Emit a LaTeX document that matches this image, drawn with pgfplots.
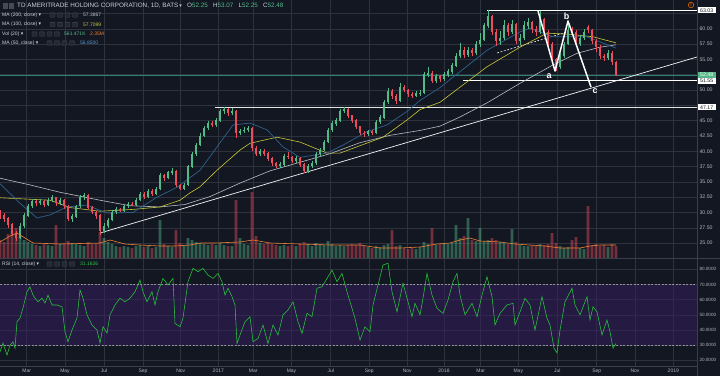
\documentclass[border=0pt]{standalone}
\usepackage{fontspec}
\setmainfont{Liberation Sans}
\newfontfamily\sym{DejaVu Sans}
\usepackage{pgfplots}
\pgfplotsset{compat=1.18}
\usepackage{pgfplotstable}

\definecolor{bgc}{RGB}{19,23,34}
\definecolor{gridc}{RGB}{46,50,61}
\definecolor{upc}{RGB}{83,185,135}
\definecolor{dnc}{RGB}{235,77,92}
\definecolor{labc}{RGB}{178,181,190}
\definecolor{txtc}{RGB}{205,208,216}
\definecolor{ma200c}{RGB}{185,188,195}
\definecolor{ma100c}{RGB}{200,200,55}
\definecolor{ma50c}{RGB}{45,98,142}
\definecolor{ma50t}{RGB}{90,150,210}
\definecolor{volmac}{RGB}{236,128,50}
\definecolor{rsic}{RGB}{40,200,60}
\definecolor{purp}{RGB}{55,29,98}
\definecolor{pricec}{RGB}{45,130,115}
\definecolor{icof}{RGB}{36,40,51}
\definecolor{icoc}{RGB}{70,74,85}
\definecolor{sepc}{RGB}{60,63,74}

% weekly candles: x = session position, o h l c, v = volume (scaled)
\pgfplotstableread{
x o h l c v
20 25.8 28.2 25.6 27.8 22
24 27.8 29.9 27.5 29.5 18
28 29.5 31.4 29.3 31.0 16
32 31.0 32.2 30.7 31.8 14
40 31.5 32.2 31.2 31.8 12
48 31.3 32.4 31.0 32.0 13
52 32.0 32.8 31.7 32.4 12
60 31.5 32.4 31.2 32.0 14
72 29.0 29.8 28.5 29.3 15
76 29.3 31.3 29.1 31.0 14
80 31.0 32.9 30.8 32.5 13
84 32.5 33.2 32.1 32.8 12
104 27.0 28.2 26.6 27.8 20
108 27.8 29.1 27.5 28.8 16
112 28.8 30.4 28.6 30.0 14
116 30.0 30.9 29.7 30.5 12
124 30.3 31.3 30.1 31.0 12
128 31.0 31.7 30.8 31.4 11
136 31.3 32.4 31.1 32.0 12
140 32.0 33.4 31.8 33.0 13
148 32.5 33.9 32.3 33.5 12
156 33.0 34.1 32.8 33.8 11
160 33.8 36.4 33.6 36.0 38
168 35.6 36.8 35.4 36.5 12
172 36.5 37.3 36.2 36.8 11
184 33.9 34.8 33.7 34.5 13
188 34.5 37.8 34.3 37.5 20
192 37.5 39.9 37.3 39.5 18
196 39.5 41.4 39.3 41.0 16
200 41.0 42.9 40.8 42.5 15
204 42.5 44.2 42.3 43.8 14
208 43.8 44.9 43.5 44.5 13
216 44.3 45.4 44.0 45.0 13
220 45.0 46.9 44.8 46.5 15
224 46.5 47.2 46.1 46.8 13
232 46.2 47.0 45.9 46.6 12
240 43.0 43.7 42.6 43.3 20
244 43.3 43.9 43.0 43.5 14
248 43.5 44.1 43.2 43.8 13
260 39.5 40.4 39.3 40.0 15
280 37.6 38.2 37.3 37.8 12
284 37.8 39.6 37.6 39.2 13
296 38.4 39.2 38.1 38.8 12
308 36.8 37.9 36.5 37.6 14
312 37.6 38.4 37.3 38.0 12
316 38.0 39.8 37.8 39.5 15
320 39.5 40.6 39.2 40.2 14
324 40.2 41.9 40.0 41.5 13
328 41.5 43.8 41.3 43.5 17
332 43.5 44.9 43.2 44.5 14
336 44.5 45.4 44.2 45.0 12
340 45.0 46.9 44.8 46.5 13
344 46.5 47.2 46.2 46.8 12
368 42.8 43.5 42.5 43.2 11
376 43.0 45.1 42.8 44.8 12
380 44.8 45.9 44.5 45.5 11
384 45.5 48.4 45.3 48.0 13
388 48.0 50.3 47.8 49.8 14
400 48.2 51.2 48.0 50.5 13
416 49.0 49.8 48.8 49.4 9
420 49.4 50.0 49.0 49.5 11
424 49.5 53.0 49.3 52.5 16
428 52.5 53.8 52.2 52.8 14
436 51.5 52.6 51.2 52.2 13
444 51.8 52.9 51.5 52.5 15
448 52.5 53.5 52.2 53.0 14
452 53.0 54.4 52.7 54.0 15
456 54.0 56.0 53.8 55.5 33
460 55.5 57.7 55.2 56.5 20
468 55.8 57.0 55.4 56.5 40
476 56.0 58.0 55.8 57.5 17
480 57.5 59.3 57.0 58.2 30
484 58.2 61.0 58.0 60.5 17
488 60.5 63.03 60.2 62.0 18
500 58.0 59.6 57.4 58.5 16
504 58.5 61.4 58.2 60.5 15
512 59.5 61.4 59.1 60.8 29
520 58.0 59.2 57.4 58.5 13
524 58.5 61.2 58.2 60.5 12
528 60.5 61.8 60.0 61.0 12
540 59.5 62.9 59.2 61.5 14
560 53.8 56.0 53.5 55.5 12
564 55.5 57.9 55.2 57.5 10
568 57.5 60.8 57.3 59.8 11
580 57.5 59.0 57.2 58.5 10
584 58.5 60.0 58.2 59.5 9
608 55.2 56.6 54.9 56.0 11
}\up

\pgfplotstableread{
x o h l c v
0 30.0 30.4 29.0 29.5 18
4 29.5 29.9 28.5 29.0 16
8 29.0 29.3 27.5 28.0 24
12 28.0 28.3 26.1 26.5 27
16 26.5 27.0 25.4 25.8 30
36 31.8 32.1 31.1 31.5 13
44 31.8 32.0 30.9 31.3 14
56 32.4 32.6 31.1 31.5 33
64 32.0 32.2 30.6 31.0 15
68 31.0 31.2 28.6 29.0 17
88 32.8 33.0 30.5 30.8 16
92 30.8 31.1 29.7 30.0 14
96 30.0 30.3 29.0 29.5 15
100 29.5 29.7 26.3 27.0 26
120 30.5 30.8 30.0 30.3 11
132 31.4 31.7 31.0 31.3 10
144 33.0 33.3 32.2 32.5 11
152 33.5 33.8 32.7 33.0 10
164 36.0 36.3 35.2 35.6 14
176 36.8 37.0 34.2 34.5 28
180 34.5 34.7 33.6 33.9 15
212 44.5 44.9 43.9 44.3 14
228 46.8 47.1 45.8 46.2 12
236 46.6 46.8 42.2 43.0 58
252 43.8 44.0 40.1 40.5 66
256 40.5 40.8 39.2 39.5 22
264 40.0 40.3 39.3 39.6 14
268 39.6 39.9 38.4 38.8 15
272 38.8 39.1 37.6 38.0 14
276 38.0 38.3 37.2 37.6 13
288 39.2 39.8 38.7 39.0 12
292 39.0 39.3 38.1 38.4 13
300 38.8 39.0 37.4 37.8 14
304 37.8 38.0 36.4 36.8 16
348 46.8 47.0 45.4 45.8 13
352 45.8 46.0 44.6 45.0 14
356 45.0 45.3 43.7 44.0 13
360 44.0 44.2 42.6 43.0 15
364 43.0 43.3 42.4 42.8 12
372 43.2 43.5 42.6 43.0 10
392 49.8 50.1 48.6 49.0 28
396 49.0 49.3 47.8 48.2 12
404 50.5 50.9 49.6 50.0 10
408 50.0 50.2 48.9 49.3 9
412 49.3 49.6 48.7 49.0 10
432 52.8 53.1 51.1 51.5 30
440 52.2 52.5 51.3 51.8 14
464 56.5 57.0 55.2 55.8 22
472 56.5 56.9 55.5 56.0 18
492 62.0 62.3 59.0 59.5 20
496 59.5 59.9 57.2 58.0 18
508 60.5 61.0 58.9 59.5 14
516 60.8 61.0 57.5 58.0 16
532 61.0 61.3 59.4 60.0 13
536 60.0 60.4 58.8 59.5 12
544 61.5 61.8 59.0 59.5 13
548 59.5 59.8 57.0 57.5 14
552 57.5 57.8 54.6 55.0 25
556 55.0 55.3 53.1 53.8 15
572 59.8 60.3 59.0 59.5 18
576 59.5 59.8 57.1 57.5 21
588 60.3 60.6 59.4 59.8 52
592 59.8 60.0 57.6 58.0 13
596 58.0 58.4 56.2 57.0 14
600 57.0 57.3 55.0 55.5 12
604 55.5 55.9 54.7 55.2 13
612 56.0 56.3 54.1 54.5 14
616 54.5 54.7 52.25 52.48 12
}\dn

\newcommand\icons[2]{\foreach \k in {0,1,2,3}{\draw[icoc, fill=icof, line width=0.4pt, rounded corners=0.6pt] ({#1+\k*7.5},{#2-2.2}) rectangle ++(5,4.4);}}

\pgfplotsset{
  wick/.style={draw=none, mark=none, forget plot, error bars/.cd, y dir=plus, y explicit, error mark=none,
    error bar style={draw=#1, line width=0.6pt, solid}},
  body/.style={draw=none, mark=none, forget plot, error bars/.cd, y dir=plus, y explicit, error mark=none,
    error bar style={draw=#1, line width=2.3pt, solid}},
}

\begin{document}
\begin{tikzpicture}[x=1pt,y=1pt]
\fill[bgc] (0,0) rectangle (720,376);

% ---------------- main price panel
\begin{axis}[
  name=main,
  at={(0pt,118pt)}, anchor=south west, scale only axis,
  width=697pt, height=258pt,
  xmin=0, xmax=697, ymin=22.56, ymax=64.71,
  xtick={26.7,65,104,143,180.7,218.3,253.3,291.5,330.7,369.3,407.3,444,480.7,518.3,557.3,596.7,635,673.3},
  xticklabels={},
  ytick={25,27.5,30,32.5,35,37.5,40,42.5,45,50,55,57.5,60},
  extra y ticks={47.5,52.5,62.5}, extra y tick labels={},
  yticklabel pos=right,
  yticklabel style={font=\fontsize{5.2}{6}\selectfont, text=labc, anchor=west, xshift=-1pt},
  grid=major, major grid style={draw=gridc, line width=0.5pt},
  extra tick style={grid=major, major grid style={draw=gridc, line width=0.5pt}},
  axis line style={draw=none}, major tick length=0pt,
  clip mode=individual,
  /pgf/number format/.cd, fixed, fixed zerofill, precision=2, assume math mode=true,
]
% last price line
\addplot[pricec, line width=0.45pt] coordinates {(0,52.48)(697,52.48)};
% horizontal levels
\addplot[white!80!gray, line width=1.2pt] coordinates {(215,47.17)(697,47.17)};
\addplot[white, line width=0.7pt] coordinates {(487,63.03)(697,63.03)};
\addplot[white, line width=0.7pt] coordinates {(463,51.55)(697,51.55)};
% rising trend line
\addplot[white!92!gray, line width=0.7pt] coordinates {(100,26.64)(697,55.4)};
% dashed line
\addplot[white!85!gray, line width=0.6pt, dash pattern=on 2pt off 1.5pt] coordinates {(497,56.05)(567,59.48)};
% moving averages
\addplot[ma200c, line width=0.6pt] coordinates {(0,35.6)(30,34.5)(60,33.3)(100,32.0)(130,31.1)(160,30.9)(185,31.3)(210,32.6)(240,34.8)(270,36.8)(300,38.2)(330,39.6)(360,41.4)(390,42.6)(420,43.4)(440,44.1)(460,45.6)(487,47.9)(520,51.1)(553,54.1)(577,56.0)(600,57.0)(616,57.39)};
\addplot[ma100c, line width=0.6pt] coordinates {(0,32.4)(50,32.0)(70,30.8)(100,30.2)(133,30.5)(160,30.9)(180,32.0)(190,33.2)(200,34.2)(217,36.9)(240,40.2)(250,41.3)(277,42.3)(300,41.5)(327,39.7)(340,39.7)(383,42.3)(407,45.1)(420,46.8)(440,48.0)(487,53.8)(520,57.0)(547,59.3)(570,59.1)(593,58.7)(616,57.71)};
\addplot[ma50c, line width=0.7pt] coordinates {(0,34.7)(20,31.5)(37,29.1)(50,29.6)(67,30.9)(87,31.2)(107,29.9)(133,30.0)(157,32.5)(177,34.1)(200,36.9)(217,40.7)(233,44.3)(250,44.6)(267,43.5)(283,40.7)(300,39.0)(327,39.7)(343,41.0)(367,43.2)(387,44.3)(407,46.5)(420,48.3)(440,50.4)(453,52.1)(487,56.5)(520,59.5)(530,60.1)(553,58.7)(587,58.7)(616,56.85)};
% candles: wicks
\addplot[wick=upc] table[x=x, y=l, y error expr={\thisrow{h}-\thisrow{l}}] {\up};
\addplot[wick=dnc] table[x=x, y=l, y error expr={\thisrow{h}-\thisrow{l}}] {\dn};
% candles: bodies
\addplot[body=upc] table[x=x, y=o, y error expr={\thisrow{c}-\thisrow{o}+0.05}] {\up};
\addplot[body=dnc] table[x=x, y=c, y error expr={\thisrow{o}-\thisrow{c}+0.05}] {\dn};
% abc zigzag
\addplot[white, line width=1.5pt, line join=round] coordinates {(538,62.92)(555,53.11)(568,61.28)(591,50.48)};
\node[text=white, font=\bfseries\fontsize{9}{9}\selectfont] at (axis cs:549,52.2) {a};
\node[text=white, font=\bfseries\fontsize{9}{9}\selectfont] at (axis cs:566.5,62.1) {b};
\node[text=white, font=\bfseries\fontsize{9}{9}\selectfont] at (axis cs:595,49.9) {c};
% price scale boxes
\node[fill=white, text=bgc, font=\fontsize{5.2}{6}\selectfont, inner sep=1.1pt, anchor=west, minimum width=19pt] at (axis cs:697,63.03) {63.03};
\node[fill=upc, text=white, font=\fontsize{5.2}{6}\selectfont, inner sep=1.1pt, anchor=west, minimum width=19pt] at (axis cs:697,52.48) {52.48};
\node[fill=white, text=bgc, font=\fontsize{5.2}{6}\selectfont, inner sep=1.1pt, anchor=west, minimum width=19pt] at (axis cs:697,51.45) {51.55};
\node[fill=white, text=bgc, font=\fontsize{5.2}{6}\selectfont, inner sep=1.1pt, anchor=west, minimum width=19pt] at (axis cs:697,47.17) {47.17};
\end{axis}

% ---------------- volume overlay
\begin{axis}[
  at={(0pt,118pt)}, anchor=south west, scale only axis,
  width=697pt, height=100pt,
  xmin=0, xmax=697, ymin=0, ymax=100, hide axis,
]
\addplot[ybar, bar width=2.6pt, bar shift=0pt, draw=none, fill=upc, fill opacity=0.45] table[x=x, y=v] {\up};
\addplot[ybar, bar width=2.6pt, bar shift=0pt, draw=none, fill=dnc, fill opacity=0.45] table[x=x, y=v] {\dn};
\addplot[volmac, line width=0.6pt] coordinates {(0,16)(10,22)(17,25)(25,20)(33,15)(60,14)(100,15)(110,18)(125,14)(140,13)(160,12)(175,12)(190,13)(200,15)(215,15)(240,16)(253,18)(270,15)(300,14)(330,13)(360,13)(380,10)(400,10)(420,11)(437,14)(450,15)(460,18)(470,20)(480,17)(500,16)(515,14)(530,13)(545,12)(560,10)(580,10)(590,12)(600,13)(616,13)};
\end{axis}

% ---------------- RSI panel
\begin{axis}[
  name=rsi,
  at={(0pt,10pt)}, anchor=south west, scale only axis,
  width=697pt, height=108pt,
  xmin=0, xmax=697, ymin=16.3, ymax=87.45,
  xtick={26.7,65,104,143,180.7,218.3,253.3,291.5,330.7,369.3,407.3,444,480.7,518.3,557.3,596.7,635,673.3},
  xticklabels={Mar,May,Jul,Sep,Nov,2017,Mar,May,Jul,Sep,Nov,2018,Mar,May,Jul,Sep,Nov,2019},
  xticklabel style={font=\fontsize{5}{6}\selectfont, text=labc, yshift=0.5pt},
  ytick={20,30,40,50,60,70,80},
  yticklabel pos=right,
  yticklabel style={font=\fontsize{4.6}{5}\selectfont, text=labc, anchor=west, xshift=-1pt},
  grid=major, major grid style={draw=gridc, line width=0.5pt},
  axis line style={draw=none}, major tick length=0pt,
  /pgf/number format/.cd, fixed, fixed zerofill, precision=4, assume math mode=true,
]
\addplot[draw=none, fill=purp, fill opacity=0.5] coordinates {(0,30)(697,30)(697,70)(0,70)(0,30)};
\addplot[labc!80!black, line width=0.5pt, dash pattern=on 2pt off 1.5pt] coordinates {(0,70)(697,70)};
\addplot[labc!80!black, line width=0.5pt, dash pattern=on 2pt off 1.5pt] coordinates {(0,30)(697,30)};
\addplot[rsic, line width=0.55pt] coordinates {(0,25.7)(3,31.4)(7,23.5)(10,30)(13,32.3)(15,28)(17,45.5)(20,47.9)(23,54.5)(27,65.2)(30,68.5)(33,63)(35,61)(38,58.6)(42,61)(45,57.8)(48,63)(52,56.5)(57,56.5)(62,55.3)(65,38.9)(68,32.3)(72,40)(77,47.9)(80,66.4)(83,61)(87,50)(92,43.3)(97,40)(100,31.4)(103,42.2)(107,38)(110,50)(115,56.5)(120,61)(125,58.6)(130,61)(135,65.2)(140,72.9)(143,65.2)(147,58.6)(152,65.2)(155,56.5)(158,65.2)(163,74)(168,69.7)(173,74)(175,44.4)(180,42.2)(183,47.9)(188,71.8)(193,80.6)(198,78.4)(203,80.6)(208,76.2)(213,74)(218,77.3)(222,71.8)(225,63)(228,67.5)(232,62)(235,56.5)(237,31.2)(240,36.7)(245,45.5)(250,48.8)(253,32.3)(258,34.5)(263,43.3)(268,31.2)(273,43.3)(278,36.7)(283,50)(288,53.2)(293,58.6)(298,45.5)(302,37.8)(307,51)(312,48.8)(317,67.5)(322,68.5)(327,74)(332,79.5)(337,71.8)(342,77.3)(347,65.2)(352,54.3)(355,47.7)(360,33.4)(365,42.2)(370,38.9)(373,56.5)(378,69.7)(383,82.8)(388,84)(392,65.2)(397,52)(403,70.8)(408,58.6)(412,48.8)(415,57.6)(420,50)(423,60.9)(427,77.3)(432,63)(437,54.3)(443,51)(448,59.8)(453,71.8)(457,77.3)(460,63)(465,50)(472,57.6)(477,48.8)(482,63)(487,75.1)(492,62)(495,43.3)(500,51)(507,56.5)(513,57.6)(515,43.3)(520,52)(525,60.9)(530,56.5)(535,40)(542,62)(547,47.7)(550,43.3)(554,28)(557,25)(560,40)(565,58.6)(572,67.5)(575,56.5)(580,50)(587,62)(590,46.6)(593,55.3)(597,52)(602,36.7)(607,46.6)(610,38.9)(613,28)(616,31.16)};
\end{axis}

% ---------------- frame lines
\draw[sepc, line width=1pt] (0,118) -- (720,118);
\draw[sepc, line width=0.6pt] (697,0) -- (697,376);
\draw[sepc, line width=0.6pt] (0,10) -- (697,10);

% ---------------- legends
\fill[icoc] (3,367.5) rectangle ++(4.5,5);
\fill[icoc] (9,367.5) rectangle ++(4.5,5);
\node[anchor=west, inner sep=0, text=txtc, font=\fontsize{6.3}{7}\selectfont] at (17,370)
  {TD AMERITRADE HOLDING CORPORATION, 1D, BATS\,{\sym\fontsize{5}{6}\selectfont ▾}\;\; O\textcolor{upc}{52.25}\;\; H\textcolor{upc}{53.07}\;\; L\textcolor{upc}{52.25}\;\; C\textcolor{upc}{52.48}};
\node[anchor=west, inner sep=0, text=txtc, font=\fontsize{5}{6}\selectfont] at (2,361) {MA (200, close) {\sym ▾}};
\icons{50}{361}
\node[anchor=west, inner sep=0, text=ma200c, font=\fontsize{5}{6}\selectfont] at (83,361) {57.3867};
\node[anchor=west, inner sep=0, text=txtc, font=\fontsize{5}{6}\selectfont] at (2,351.5) {MA (100, close) {\sym ▾}};
\icons{50}{351.5}
\node[anchor=west, inner sep=0, text=ma100c, font=\fontsize{5}{6}\selectfont] at (83,351.5) {57.7099};
\node[anchor=west, inner sep=0, text=txtc, font=\fontsize{5}{6}\selectfont] at (2,342) {Vol (20) {\sym ▾}};
\icons{32}{342}
\node[anchor=west, inner sep=0, text=upc, font=\fontsize{5}{6}\selectfont] at (64,342) {561.471K};
\node[anchor=west, inner sep=0, text=volmac, font=\fontsize{5}{6}\selectfont] at (90,342) {2.35M};
\node[anchor=west, inner sep=0, text=txtc, font=\fontsize{5}{6}\selectfont] at (2,333) {MA (50, close) {\sym ▾}};
\icons{47}{333}
\node[anchor=west, inner sep=0, text=ma50t, font=\fontsize{5}{6}\selectfont] at (80,333) {56.8500};
\node[anchor=west, inner sep=0, text=txtc, font=\fontsize{5}{6}\selectfont] at (2,112) {RSI (14, close) {\sym ▾}};
\icons{47}{112}
\node[anchor=west, inner sep=0, text=rsic, font=\fontsize{5}{6}\selectfont] at (80,112) {31.1626};
% alert icon
\node[circle, draw=orange!90!red, line width=0.5pt, inner sep=0.6pt, text=orange!90!red, font=\bfseries\fontsize{4}{4}\selectfont, minimum size=5.5pt] at (691,371) {!};

\pgfresetboundingbox
\path[use as bounding box] (0,0) rectangle (720,376);
\end{tikzpicture}
\end{document}
